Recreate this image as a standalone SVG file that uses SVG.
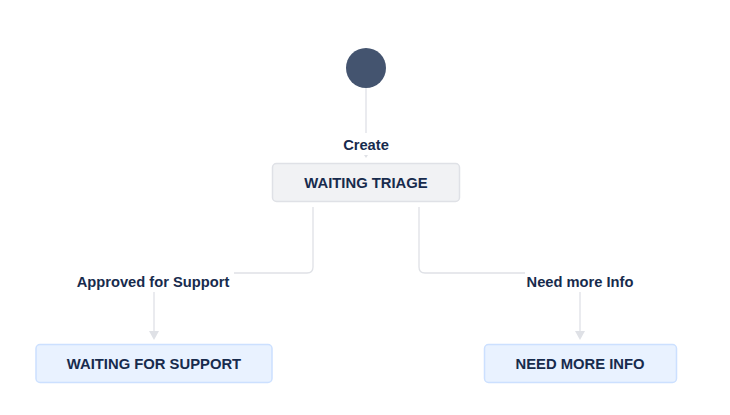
<svg xmlns="http://www.w3.org/2000/svg" width="730" height="415" viewBox="0 0 730 415">
<style>
.node rect{stroke-width:1.5}
.status rect{fill:#f1f2f4;stroke:#dfe1e6}
.todo rect{fill:#e9f2ff;stroke:#cce0ff}
.t{font-family:"Liberation Sans",Arial,sans-serif;font-size:14.8px;font-weight:bold;fill:#172b4d;text-anchor:middle}
.conn{fill:none;stroke:#dfe1e6;stroke-width:1.3}
.ah{fill:#dfe1e6}
.lbl{font-family:"Liberation Sans",Arial,sans-serif;font-size:14.7px;font-weight:bold;fill:#172b4d;text-anchor:middle}
</style>
<rect width="730" height="415" fill="#ffffff"/>
<g id="connectors">
<line class="conn" x1="366" y1="88" x2="366" y2="133"/>
<path class="ah" d="M364,155 L368,155 L366,158 Z"/>
<path class="conn" d="M313,207 V267 Q313,273 307,273 H234"/>
<line class="conn" x1="154" y1="292" x2="154" y2="332"/>
<path class="ah" d="M149,331 L159,331 L154,340 Z"/>
<path class="conn" d="M419,207 V267 Q419,273 425,273 H525"/>
<line class="conn" x1="580" y1="292" x2="580" y2="332"/>
<path class="ah" d="M575,331 L585,331 L580,340 Z"/>
<text class="lbl" x="366" y="150">Create</text>
<text class="lbl" x="153" y="287">Approved for Support</text>
<text class="lbl" x="580" y="287">Need more Info</text>
</g>
<g id="start"><circle cx="366" cy="68" r="20" fill="#44546f"/></g>
<g id="waiting-triage" class="node status">
<rect x="272.5" y="163.5" width="187" height="38" rx="4"/>
<text class="t" x="366" y="188">WAITING TRIAGE</text>
</g>
<g id="waiting-for-support" class="node todo">
<rect x="36" y="344.5" width="236" height="38" rx="4"/>
<text class="t" x="154" y="369">WAITING FOR SUPPORT</text>
</g>
<g id="need-more-info" class="node todo">
<rect x="484.5" y="344.5" width="192" height="38" rx="4"/>
<text class="t" x="580" y="369">NEED MORE INFO</text>
</g>
</svg>
